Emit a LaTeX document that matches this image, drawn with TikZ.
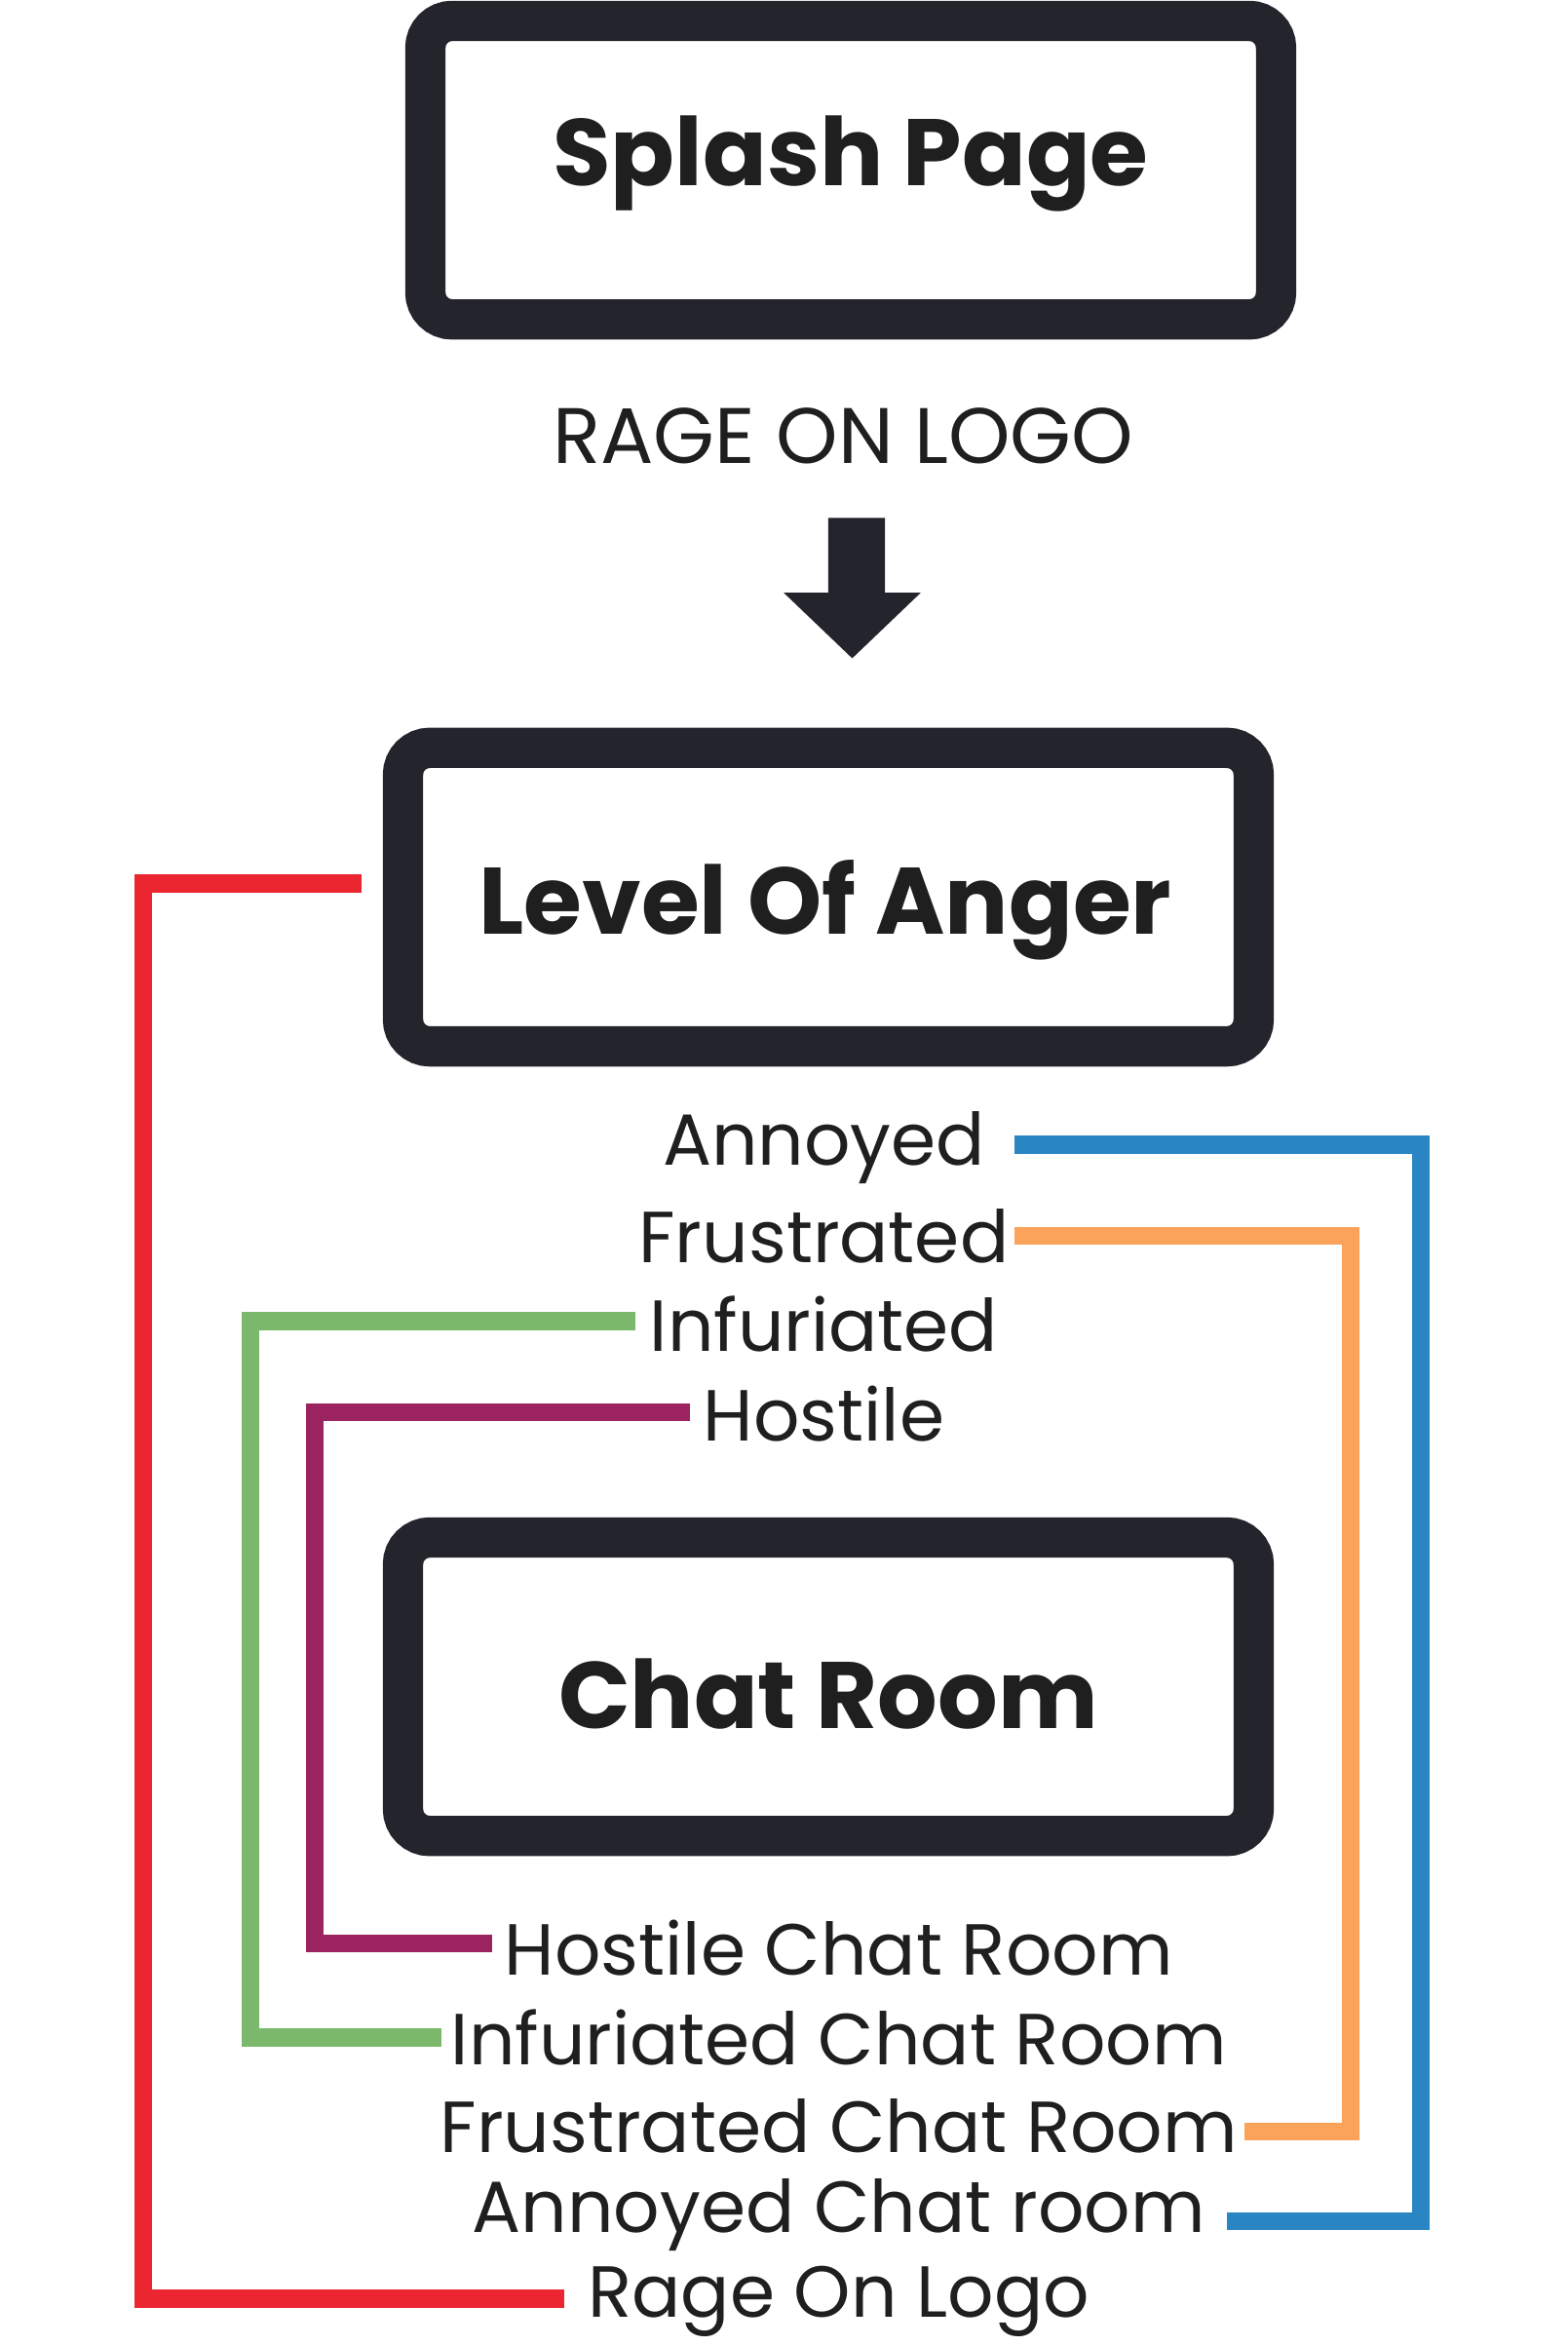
\documentclass[tikz,border=0pt]{standalone}
\usepackage{fontspec}
\setmainfont{Poppins}
\begin{document}
\begin{tikzpicture}[x=0.05cm,y=-0.05cm,
  box/.style={line width=27*0.05cm,rounded corners=18*0.05cm},
  title/.style={font=\fontsize{90}{100}\selectfont\bfseries,text=black!88},
  lab/.style={font=\fontsize{69}{74}\selectfont,text=black!88},
  wire/.style={line width=12*0.05cm}]
\definecolor{cblue}{HTML}{2A86C2}
\definecolor{corange}{HTML}{FBA35A}
\definecolor{cgreen}{HTML}{7BB86B}
\definecolor{cpurple}{HTML}{9B2460}
\definecolor{cred}{HTML}{EC2630}
\definecolor{cdark}{HTML}{24252C}
\useasboundingbox (0,0) rectangle (1050,1571);
\draw[box,draw=cdark] (285,14) rectangle (855,214);
\node[title] (splash) at (570,110) {Splash Page};
\node[lab,font=\fontsize{75}{80}\selectfont] (rage) at (565,292) {RAGE ON LOGO};
\fill[cdark] (555,347) -- (593,347) -- (593,397) -- (617,397) -- (571,441) -- (525,397) -- (555,397) -- cycle;
\draw[box,draw=cdark] (270,501) rectangle (840,701);
\node[title] (anger) at (553,610) {Level Of Anger};
\draw[box,draw=cdark] (270,1030) rectangle (840,1230);
\node[title] (chat) at (555,1135) {Chat Room};
\node[lab] (ann) at (552,769) {Annoyed};
\node[lab] (fru) at (552,828) {Frustrated};
\node[lab] (inf) at (552,887) {Infuriated};
\node[lab] (hos) at (552,947) {Hostile};
\node[lab] (hcr) at (562,1305) {Hostile Chat Room};
\node[lab] (icr) at (562,1365) {Infuriated Chat Room};
\node[lab] (fcr) at (562,1424) {Frustrated Chat Room};
\node[lab] (acr) at (562,1484) {Annoyed Chat room};
\node[lab] (rol) at (562,1542) {Rage On Logo};
\coordinate (b1) at (680,767); \coordinate (b2) at (822,1488);
\coordinate (o1) at (680,828); \coordinate (o2) at (834,1428);
\coordinate (g1) at (426,885); \coordinate (g2) at (296,1365);
\coordinate (p1) at (462,946); \coordinate (p2) at (330,1302);
\coordinate (r1) at (242,592); \coordinate (r2) at (378,1540);
\draw[wire,cblue] (b1) -- (952,767) -- (952,1488) -- (b2);
\draw[wire,corange] (o1) -- (905,828) -- (905,1428) -- (o2);
\draw[wire,cgreen] (g1) -- (168,885) -- (168,1365) -- (g2);
\draw[wire,cpurple] (p1) -- (211,946) -- (211,1302) -- (p2);
\draw[wire,cred] (r1) -- (96,592) -- (96,1540) -- (r2);
\end{tikzpicture}
\end{document}
